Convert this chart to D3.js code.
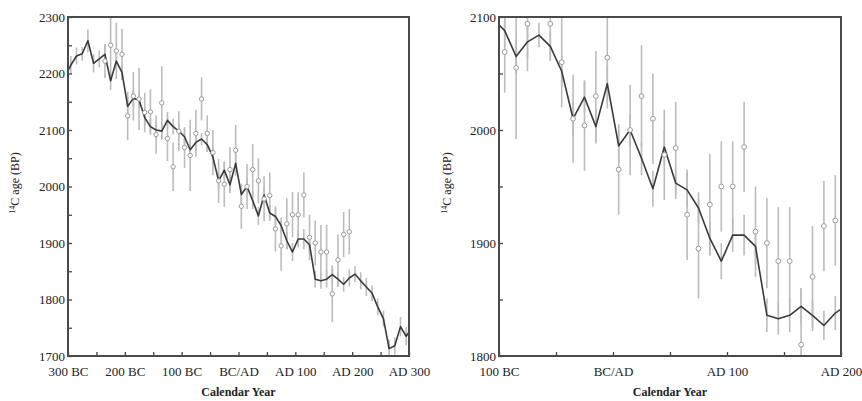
<!DOCTYPE html>
<html>
<head>
<meta charset="utf-8">
<script src="https://cdn.jsdelivr.net/npm/d3@7"></script>
<style>
  html, body { margin: 0; padding: 0; background: #fff; }
  svg { display: block; }
  text { font-family: "Liberation Serif", "Times New Roman", "DejaVu Serif", serif; fill: #222; }
</style>
</head>
<body>
<svg id="chart" width="862" height="401"></svg>
<script>
// ---- Calibration curve (line) ----
const curveYears = [-300,-295,-285,-275,-265,-255,-245,-235,-225,-215,-205,-195,-185,-175,-165,-155,-145,-135,-125,-115,-105,
  -95,-85,-75,-65,-55,-45,-35,-25,-15,-5,5,15,25,35,45,55,65,75,85,95,105,115,125,135,145,155,165,175,185,195,
  205,215,225,235,245,255,265,275,285,295,300];
const curveBP = [2205,2215,2231,2235,2258,2218,2226,2234,2187,2222,2202,2142,2156,2153,2122,2106,2100,2098,2117,2106,2098,
  2088,2065,2078,2084,2074,2052,2010,2029,2003,2041,1986,2000,1975,1948,1985,1953,1947,1931,1904,1884,1907,1907,1897,1836,1833,1836,1844,1836,1827,1838,
  1845,1833,1822,1811,1787,1766,1713,1718,1752,1735,1742];
const curveErr = [0,16,15,12,20,16,15,18,16,15,14,16,15,14,15,14,13,14,15,14,13,
  14,15,14,11,13,14,15,14,15,16,15,14,15,16,15,14,15,14,15,16,15,18,16,15,14,15,16,14,13,15,
  14,15,16,14,15,14,16,15,17,16,0];

// ---- Measured samples (open circles) ----
const measYears = [-235,-225,-215,-205,-195,-185,-175,-165,-155,-145,-135,-125,-115,-105,
  -95,-85,-75,-65,-55,-45,-35,-25,-15,-5,5,15,25,35,45,55,65,75,85,95,105,115,125,135,145,155,165,175,185,195];
const measBP = [2222,2250,2240,2234,2125,2160,2155,2131,2132,2092,2148,2085,2035,2098,
  2069,2055,2094,2155,2094,2060,2010,2004,2030,2064,1965,2000,2030,2010,1978,1984,1925,1895,1934,1950,1950,1985,1910,1900,1884,1884,1810,1870,1915,1920];
const measErr = [30,55,50,45,43,43,55,35,40,34,65,40,43,35,
  36,63,42,38,32,40,39,40,40,45,40,40,45,40,40,41,40,44,45,40,40,40,40,40,48,48,50,45,40,40];

// ---- Axes ----
const leftXTicks = [-300,-250,-200,-150,-100,-50,0,50,100,150,200,250,300];
const leftXLabels = ["300 BC","","200 BC","","100 BC","","BC/AD","","AD 100","","AD 200","","AD 300"];
const leftYTicks = [1700,1750,1800,1850,1900,1950,2000,2050,2100,2150,2200,2250,2300];
const leftYLabels = ["1700","","1800","","1900","","2000","","2100","","2200","","2300"];
const rightXTicks = [-100,-50,0,50,100,150,200];
const rightXLabels = ["100 BC","","BC/AD","","AD 100","","AD 200"];
const rightYTicks = [1800,1850,1900,1950,2000,2050,2100];
const rightYLabels = ["1800","","1900","","2000","","2100"];
const xTitle = "Calendar Year";

const svg = d3.select("#chart");

const panels = [
  {id:"L", x0:68, x1:409, y0:17, y1:356, xd:[-300,300], yd:[1700,2300],
   xt:leftXTicks, xl:leftXLabels, yt:leftYTicks, yl:leftYLabels, lx:19, r:2.2},
  {id:"R", x0:499, x1:841, y0:17, y1:356, xd:[-100,200], yd:[1800,2100],
   xt:rightXTicks, xl:rightXLabels, yt:rightYTicks, yl:rightYLabels, lx:451, r:2.4}
];

const defs = svg.append("defs");

panels.forEach(p => {
  const x = d3.scaleLinear().domain(p.xd).range([p.x0, p.x1]);
  const y = d3.scaleLinear().domain(p.yd).range([p.y1, p.y0]);

  defs.append("clipPath").attr("id", "clip" + p.id)
    .append("rect").attr("x", p.x0).attr("y", p.y0)
    .attr("width", p.x1 - p.x0).attr("height", p.y1 - p.y0);

  const g = svg.append("g").attr("clip-path", `url(#clip${p.id})`);

  // curve error bars
  g.selectAll("line.cerr").data(curveYears.map((yr,i)=>({yr, bp:curveBP[i], e:curveErr[i]})).filter(d=>d.e>0))
    .join("line").attr("class","cerr")
    .attr("x1", d=>x(d.yr)).attr("x2", d=>x(d.yr))
    .attr("y1", d=>y(d.bp + d.e)).attr("y2", d=>y(d.bp - d.e))
    .attr("stroke", "#bcbcbc").attr("stroke-width", 1.6);

  // measurement error bars
  const meas = measYears.map((yr,i)=>({yr, bp:measBP[i], e:measErr[i]}));
  g.selectAll("line.merr").data(meas)
    .join("line").attr("class","merr")
    .attr("x1", d=>x(d.yr)).attr("x2", d=>x(d.yr))
    .attr("y1", d=>y(d.bp + d.e)).attr("y2", d=>y(d.bp - d.e))
    .attr("stroke", "#bcbcbc").attr("stroke-width", 1.6);

  // curve line
  const line = d3.line().x(d=>x(d[0])).y(d=>y(d[1]));
  g.append("path").datum(curveYears.map((yr,i)=>[yr, curveBP[i]]))
    .attr("d", line).attr("fill","none")
    .attr("stroke", "#3a3a3a").attr("stroke-width", 1.6).attr("stroke-linejoin","round");

  // circles
  g.selectAll("circle").data(meas).join("circle")
    .attr("cx", d=>x(d.yr)).attr("cy", d=>y(d.bp)).attr("r", p.r)
    .attr("fill", "#fff").attr("stroke", "#9a9a9a").attr("stroke-width", 1);

  // axes
  const xAxis = d3.axisBottom(x).tickValues(p.xt)
    .tickFormat((d,i)=>p.xl[i]).tickSizeInner(-4).tickSizeOuter(0).tickPadding(11);
  const gx = svg.append("g").attr("transform", `translate(0,${p.y1})`).call(xAxis);
  const yAxis = d3.axisLeft(y).tickValues(p.yt)
    .tickFormat((d,i)=>p.yl[i]).tickSizeInner(-4).tickSizeOuter(0).tickPadding(3);
  const gy = svg.append("g").attr("transform", `translate(${p.x0},0)`).call(yAxis);
  [gx, gy].forEach(a => {
    a.select(".domain").remove();
    a.selectAll(".tick line").attr("stroke", "#444").attr("stroke-width", 1.3);
    a.selectAll(".tick text").style("font-family", '"Liberation Serif", "Times New Roman", serif')
      .style("font-size", "13px").attr("fill", "#222");
  });

  // frame
  svg.append("rect").attr("x", p.x0).attr("y", p.y0)
    .attr("width", p.x1 - p.x0).attr("height", p.y1 - p.y0)
    .attr("fill", "none").attr("stroke", "#4a4a4a").attr("stroke-width", 2);

  // x title
  svg.append("text").attr("x", (p.x0 + p.x1) / 2).attr("y", 396)
    .attr("text-anchor", "middle").style("font-size", "12px").style("font-weight", "bold")
    .text(xTitle);

  // y title
  const yt = svg.append("text")
    .attr("transform", `translate(${p.lx},183) rotate(-90)`)
    .attr("text-anchor", "middle").style("font-size", "12px");
  yt.append("tspan").attr("baseline-shift", "super").style("font-size", "8px").text("14");
  yt.append("tspan").text("C age (BP)");
});
</script>
</body>
</html>
